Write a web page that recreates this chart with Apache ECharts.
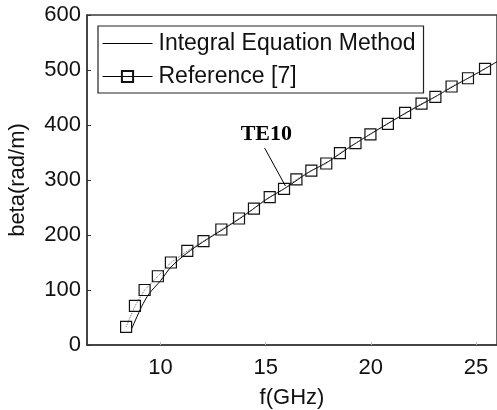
<!DOCTYPE html>
<html>
<head>
<meta charset="utf-8">
<script src="https://cdn.jsdelivr.net/npm/echarts@6/dist/echarts.min.js"></script>
<style>
  html, body { margin: 0; padding: 0; background: #fff; }
  #chart { width: 497px; height: 410px; }
</style>
</head>
<body>
<div id="chart"></div>
<script>
// Propagation constant of the TE10 mode versus frequency
const xTickValues = [10, 15, 20, 25];

// Integral equation method (solid curve)
const iemFreq = [8.63, 9.1, 9.45, 10.0, 10.5, 11.25, 12.0, 13.0, 14.0, 15.0, 16.0, 17.0, 18.0, 19.0, 20.0, 21.0, 22.0, 23.0, 24.0, 25.0, 26.0];
const iemBeta = [30, 70, 93, 117, 142, 167, 187, 211, 236, 264, 287, 313, 334, 360, 384, 407, 429, 450, 472, 493, 515];

// Reference [7] (square markers)
const refFreq = [8.36, 8.78, 9.24, 9.87, 10.49, 11.27, 12.04, 12.89, 13.73, 14.44, 15.19, 15.87, 16.46, 17.17, 17.88, 18.53, 19.27, 19.98, 20.81, 21.63, 22.41, 23.07, 23.84, 24.62, 25.43];
const refBeta = [33, 71, 100, 125, 150, 171, 189, 210, 230, 248, 269, 284, 301, 317, 330, 349, 367, 383, 402, 422, 439, 451, 470, 485, 502];

// Mode label and its leader line (data coordinates)
const modeLabel = 'TE10';
const modeLabelAt = [15.03, 383];
const leaderFrom = [14.95, 358];
const leaderTo = [15.94, 289];

const zip = (xs, ys) => xs.map((x, i) => [x, ys[i]]);

const chart = echarts.init(document.getElementById('chart'), null, { renderer: 'canvas' });
const font = 'Liberation Sans, Arial, sans-serif';

chart.setOption({
  animation: false,
  backgroundColor: '#fff',
  grid: {
    left: 87, right: 0, top: 15, bottom: 65,
    outerBoundsMode: 'none', containLabel: false,
    show: true, borderColor: '#3a3a3a', borderWidth: 1.5, backgroundColor: 'transparent'
  },
  legend: {
    orient: 'vertical',
    left: 98, top: 26,
    padding: [6, 8, 5, 4],
    itemWidth: 50, itemHeight: 14, itemGap: 10,
    borderColor: '#222', borderWidth: 1.2,
    backgroundColor: '#fff',
    textStyle: { fontFamily: font, fontSize: 23, color: '#111', lineHeight: 22, padding: [0, 0, 0, 1] },
    data: [
      { name: 'Integral Equation Method', itemStyle: { opacity: 0 }, lineStyle: { color: '#000', width: 1 } },
      { name: 'Reference [7]', lineStyle: { type: 'solid', color: '#000', width: 1 } }
    ]
  },
  xAxis: {
    type: 'value',
    min: 6.5, max: 26,
    name: 'f(GHz)', nameLocation: 'middle', nameGap: 42,
    nameTextStyle: { fontFamily: font, fontSize: 22, color: '#111' },
    axisLine: { show: true, lineStyle: { color: '#3a3a3a', width: 1.5 } },
    axisTick: { show: true, inside: true, length: 3, customValues: xTickValues, lineStyle: { color: '#bbb' } },
    axisLabel: { customValues: xTickValues, fontFamily: font, fontSize: 22, color: '#111', margin: 12 },
    splitLine: { show: false }
  },
  yAxis: {
    type: 'value',
    min: 0, max: 600, interval: 100,
    name: 'beta(rad/m)', nameLocation: 'middle', nameGap: 58,
    nameTextStyle: { fontFamily: font, fontSize: 22, color: '#111' },
    axisLine: { show: true, lineStyle: { color: '#3a3a3a', width: 1.5 } },
    axisTick: { show: true, inside: true, length: 4, lineStyle: { color: '#333' } },
    axisLabel: { fontFamily: font, fontSize: 22, color: '#111', margin: 6 },
    splitLine: { show: false }
  },
  series: [
    {
      name: 'Integral Equation Method',
      type: 'line',
      data: zip(iemFreq, iemBeta),
      symbol: 'none',
      smooth: 0.3,
      color: '#000',
      lineStyle: { color: '#000', width: 1 },
      z: 3,
      markLine: {
        silent: true,
        symbol: 'none',
        label: { show: false },
        lineStyle: { color: '#000', width: 1, type: 'solid' },
        data: [[{ coord: leaderFrom }, { coord: leaderTo }]]
      },
      markPoint: {
        silent: true,
        symbol: 'circle', symbolSize: 0,
        label: {
          show: true, position: 'inside', formatter: modeLabel,
          fontFamily: 'Liberation Serif, Times New Roman, serif', fontWeight: 'bold', fontSize: 22, color: '#000'
        },
        data: [{ coord: modeLabelAt }]
      }
    },
    {
      name: 'Reference [7]',
      type: 'line',
      data: zip(refFreq, refBeta),
      symbol: 'rect', symbolSize: 11,
      color: '#000',
      itemStyle: { color: 'rgba(0,0,0,0)', borderColor: '#111', borderWidth: 1.2 },
      lineStyle: { color: '#666', width: 1, type: 'dotted' },
      z: 4
    }
  ]
});
</script>
</body>
</html>
